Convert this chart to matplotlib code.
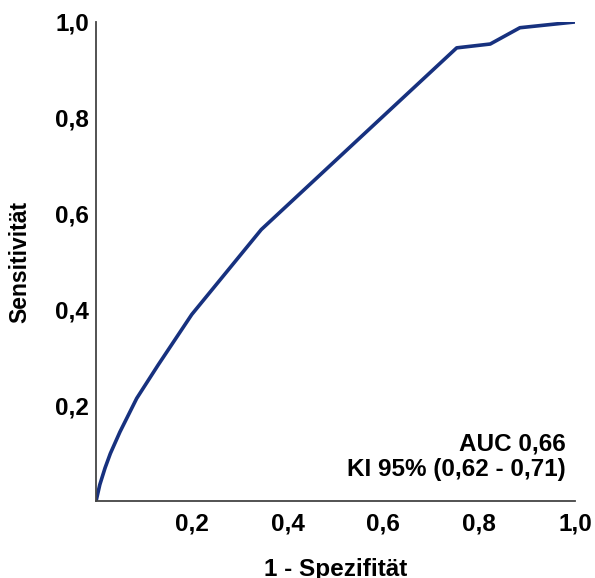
import matplotlib
matplotlib.use("Agg")
import matplotlib.pyplot as plt

# ROC curve points (1 - specificity, sensitivity)
fpr = [0.0, 0.008, 0.019, 0.030, 0.050, 0.085, 0.130, 0.200, 0.345,
       0.753, 0.823, 0.885, 1.0]
tpr = [0.0, 0.035, 0.070, 0.100, 0.145, 0.215, 0.285, 0.390, 0.567,
       0.946, 0.954, 0.988, 1.0]

x_ticks = [0.2, 0.4, 0.6, 0.8, 1.0]
x_tick_labels = ["0,2", "0,4", "0,6", "0,8", "1,0"]
y_ticks = [0.2, 0.4, 0.6, 0.8, 1.0]
y_tick_labels = ["0,2", "0,4", "0,6", "0,8", "1,0"]

auc_lines = ["AUC 0,66", "KI 95% (0,62 - 0,71)"]

plt.rcParams['font.family'] = ['Liberation Sans', 'DejaVu Sans']
plt.rcParams['font.weight'] = 'bold'

fig = plt.figure(figsize=(5.95, 5.78), dpi=100)
ax = fig.add_axes([0.1613, 0.1324, 0.8051, 0.8296])

ax.plot(fpr, tpr, color='#17317f', linewidth=2.6)

ax.set_xlim(0, 1)
ax.set_ylim(0, 1)
ax.set_xticks(x_ticks)
ax.set_xticklabels(x_tick_labels, fontsize=17.5, fontweight='bold')
ax.set_yticks(y_ticks)
ax.set_yticklabels(y_tick_labels, fontsize=17.5, fontweight='bold')
ax.tick_params(axis='both', length=0)
ax.tick_params(axis='x', pad=8)
ax.tick_params(axis='y', pad=5)

for side in ['top', 'right']:
    ax.spines[side].set_visible(False)
for side in ['left', 'bottom']:
    ax.spines[side].set_color('#444444')
    ax.spines[side].set_linewidth(1.3)

ax.set_xlabel("1 - Spezifität", fontsize=17.5, fontweight='bold', labelpad=16)
ax.set_ylabel("Sensitivität", fontsize=16.5, fontweight='bold', labelpad=17)

# AUC annotation, one line each
ax.text(0.981, 0.119, auc_lines[0], transform=ax.transAxes, ha='right',
        va='center', fontsize=17.5, fontweight='bold')
ax.text(0.981, 0.067, auc_lines[1], transform=ax.transAxes, ha='right',
        va='center', fontsize=17.5, fontweight='bold')

fig.savefig("out.png", dpi=100)
